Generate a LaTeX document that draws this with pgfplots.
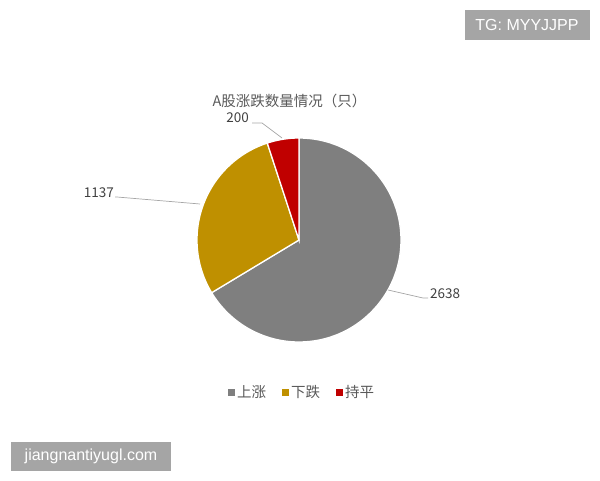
\documentclass[border=0pt]{standalone}
\usepackage{pgfplots}
\pgfplotsset{compat=1.18}
\usepackage{pgfplotstable}
\usepackage{fontspec}
\setmainfont{Liberation Sans}
\newfontfamily\cjk{Noto Sans CJK SC}
\definecolor{cUp}{HTML}{7F7F7F}
\definecolor{cDown}{HTML}{BF9000}
\definecolor{cFlat}{HTML}{C00000}
\definecolor{txt}{HTML}{595959}
\definecolor{lbl}{HTML}{404040}
\definecolor{lead}{HTML}{A6A6A6}
\definecolor{wm}{HTML}{A5A5A5}

\pgfplotstableread{
idx value
0 2638
1 1137
2 200
}\piedata

\begin{document}
\begin{tikzpicture}
\pgfplotstablegetelem{0}{value}\of\piedata \let\vA\pgfplotsretval
\pgfplotstablegetelem{1}{value}\of\piedata \let\vB\pgfplotsretval
\pgfplotstablegetelem{2}{value}\of\piedata \let\vC\pgfplotsretval
\pgfmathsetmacro\tot{\vA+\vB+\vC}
\pgfmathsetmacro\eA{90-360*(\vA/\tot)}
\pgfmathsetmacro\eB{\eA-360*(\vB/\tot)}
\pgfmathsetmacro\eC{\eB-360*(\vC/\tot)}
\begin{axis}[
  hide axis, scale only axis, clip=false,
  x=1pt, y=1pt,
  xmin=0, xmax=600, ymin=0, ymax=480,
  legend columns=3,
  legend image code/.code={\fill[#1] (0pt,-3.5pt) rectangle (7pt,3.5pt);},
  legend style={draw=none, fill=none, at={(axis cs:302,88)}, anchor=center,
    font=\cjk\fontsize{14.5}{16}\selectfont, text=txt,
    /tikz/every odd column/.style={column sep=0pt},
    /tikz/every even column/.style={column sep=14pt},
    nodes={inner sep=2pt}},
]
\path (axis cs:0,0) rectangle (axis cs:600,480);
% slices
\fill[cUp, draw=white, line width=1.3pt] (axis cs:299,240) -- ++(90:102pt) arc[start angle=90, end angle=\eA, radius=102pt] -- cycle;
\fill[cDown, draw=white, line width=1.3pt] (axis cs:299,240) -- ++(\eA:102pt) arc[start angle=\eA, end angle=\eB, radius=102pt] -- cycle;
\fill[cFlat, draw=white, line width=1.3pt] (axis cs:299,240) -- ++(\eB:102pt) arc[start angle=\eB, end angle=\eC, radius=102pt] -- cycle;
\addlegendimage{fill=cUp, draw=none}\addlegendentry{上涨}
\addlegendimage{fill=cDown, draw=none}\addlegendentry{下跌}
\addlegendimage{fill=cFlat, draw=none}\addlegendentry{持平}
% leader lines
\draw[lead, line width=0.7pt] (axis cs:388,190) -- (axis cs:423,182) -- (axis cs:428,182);
\draw[lead, line width=0.7pt] (axis cs:200,276) -- (axis cs:117,283) -- (axis cs:115,283);
\draw[lead, line width=0.7pt] (axis cs:282,342) -- (axis cs:262,357) -- (axis cs:252,357);
% data labels
\node[text=lbl, font=\cjk\fontsize{13.5}{15}\selectfont, anchor=west, inner sep=0pt] at (axis cs:430,186) {2638};
\node[text=lbl, font=\cjk\fontsize{13.5}{15}\selectfont, anchor=east, inner sep=0pt] at (axis cs:114,287) {1137};
\node[text=lbl, font=\cjk\fontsize{13.5}{15}\selectfont, anchor=east, inner sep=0pt] at (axis cs:249,362) {200};
% title
\node[text=txt, font=\cjk\fontsize{14.5}{16}\selectfont, inner sep=0pt] at (axis cs:289.5,379) {A股涨跌数量情况（只）};
% watermarks
\node[fill=wm, text=white, font=\fontsize{16}{18}\selectfont, minimum width=125pt, minimum height=30pt, inner sep=0pt] at (axis cs:527,455) {TG: MYYJJPP};
\node[fill=wm, text=white, font=\fontsize{16}{18}\selectfont, minimum width=160pt, minimum height=29pt, inner sep=0pt] at (axis cs:91,23.5) {jiangnantiyugl.com};
\end{axis}
\end{tikzpicture}
\end{document}
